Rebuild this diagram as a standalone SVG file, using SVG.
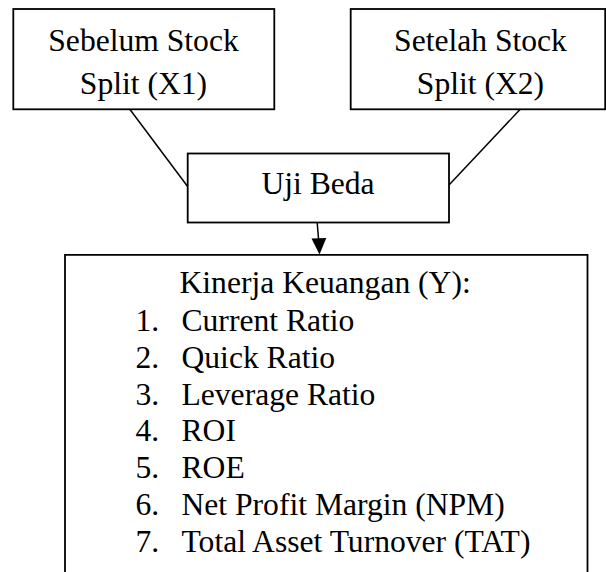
<svg xmlns="http://www.w3.org/2000/svg" width="606" height="572" viewBox="0 0 606 572">
  <defs>
    <style>
      .box { fill: #ffffff; stroke: #000000; stroke-width: 1.8; }
      .t { font-family: "Liberation Serif", "Times New Roman", serif; font-size: 31.6px; fill: #000000; }
      .c { text-anchor: middle; }
      .edge { stroke: #000000; stroke-width: 1.5; fill: none; }
      .head { fill: #000000; }
    </style>
  </defs>
  <rect width="606" height="572" fill="#ffffff"/>

  <g id="connectors">
    <line class="edge" x1="130" y1="109.5" x2="188" y2="187"/>
    <line class="edge" x1="520" y1="109.5" x2="449" y2="185"/>
    <line class="edge" x1="317.2" y1="222.7" x2="318.8" y2="242"/>
    <polygon class="head" points="311.5,238.6 326.3,238 319.5,254.6"/>
  </g>

  <g id="node-sebelum">
    <rect class="box" x="13.3" y="9" width="261" height="100.3"/>
    <text class="t c" x="143.5" y="51">Sebelum Stock</text>
    <text class="t c" x="143.5" y="93.5">Split (X1)</text>
  </g>

  <g id="node-setelah">
    <rect class="box" x="350.7" y="9" width="254.5" height="100.3"/>
    <text class="t c" x="480.5" y="51">Setelah Stock</text>
    <text class="t c" x="480.5" y="93.5">Split (X2)</text>
  </g>

  <g id="node-uji">
    <rect class="box" x="187.7" y="153.5" width="261.3" height="69"/>
    <text class="t c" x="318" y="194.3">Uji Beda</text>
  </g>

  <g id="node-kinerja">
    <path class="box" d="M65,580 L65,254.8 L587.5,254.8 L587.5,580"/>
    <text class="t" x="179.5" y="292.5">Kinerja Keuangan (Y):</text>
    <text class="t" x="135.5" y="331">1.</text>
    <text class="t" x="181.5" y="331">Current Ratio</text>
    <text class="t" x="135.5" y="367.8">2.</text>
    <text class="t" x="181.5" y="367.8">Quick Ratio</text>
    <text class="t" x="135.5" y="404.6">3.</text>
    <text class="t" x="181.5" y="404.6">Leverage Ratio</text>
    <text class="t" x="135.5" y="441.4">4.</text>
    <text class="t" x="181.5" y="441.4">ROI</text>
    <text class="t" x="135.5" y="478.2">5.</text>
    <text class="t" x="181.5" y="478.2">ROE</text>
    <text class="t" x="135.5" y="515">6.</text>
    <text class="t" x="181.5" y="515">Net Profit Margin (NPM)</text>
    <text class="t" x="135.5" y="551.8">7.</text>
    <text class="t" x="181.5" y="551.8">Total Asset Turnover (TAT)</text>
  </g>
</svg>
